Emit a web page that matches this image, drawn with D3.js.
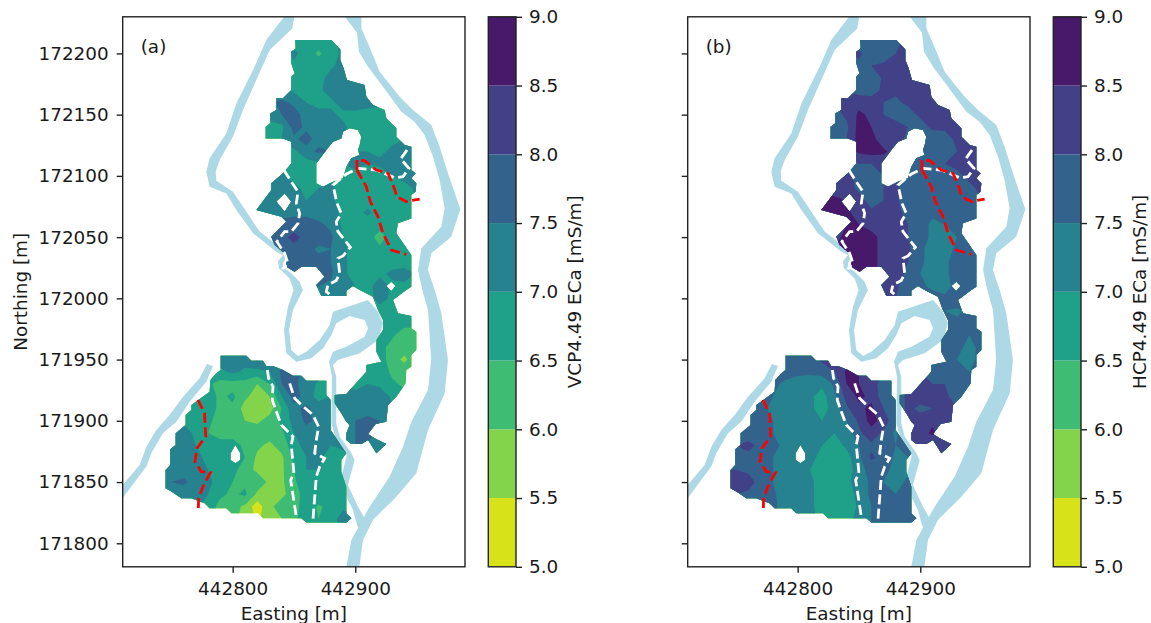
<!DOCTYPE html>
<html>
<head>
<meta charset="utf-8">
<script src="https://cdn.jsdelivr.net/npm/d3@7"></script>
<style>
    body { margin: 0; background: #fff; }
    text { font-family: "DejaVu Sans", sans-serif; fill: #1a1a1a; }
</style>
</head>
<body>
<div id="chart"></div>
<script>
const levels = [5, 5.5, 6, 6.5, 7, 7.5, 8, 8.5, 9];
const eastTicks = [442800, 442900];
const northTicks = [171800, 171850, 171900, 171950, 172000, 172050, 172100, 172150, 172200];
const gridStep = 10;
const gridWest = 442740, gridEast = 442950, gridNorth = 172210, gridSouth = 171810;

// measured ECa, one row per northing (172210 going south), first number = easting of first value minus 442000
// 0 means no measurement
const vcpRows = [
    [850, 6.8, 6.8, 6.8, 6.8, 7.2],
    [850, 7.1, 6.8, 6.4, 6.8, 7.1],
    [850, 6.9, 6.8, 6.8, 6.9, 7.2],
    [850, 6.8, 6.8, 6.8, 7.2, 7.3, 7.3],
    [850, 6.9, 6.8, 6.9, 7.2, 7.3, 7.3, 7.2],
    [840, 7.6, 7.4, 7.0, 6.8, 6.9, 7.2, 7.2, 7.2, 7.1],
    [830, 7.1, 7.5, 7.7, 7.3, 7.2, 7.1, 6.9, 6.9, 6.8, 6.8, 6.9],
    [830, 6.9, 6.9, 7.7, 7.4, 7.3, 7.4, 7.1, 6.8, 6.8, 6.8, 6.8],
    [830, 7.0, 7.0, 7.4, 7.7, 7.3, 7.2, 7.0, 6.9, 6.8, 6.8, 6.9, 7.0],
    [850, 6.9, 7.3, 7.6, 7.5, 7.0, 7.0, 7.0, 6.9, 7.1, 7.2],
    [840, 6.9, 6.8, 6.8, 6.9, 7.0, 7.0, 7.1, 7.0, 7.1, 7.2, 7.3, 7.3],
    [830, 7.2, 7.1, 6.8, 6.8, 6.9, 6.9, 6.9, 6.9, 6.7, 6.7, 7.0, 7.2, 7.2],
    [820, 7.3, 7.3, 7.2, 7.1, 6.9, 7.0, 7.1, 6.8, 6.6, 6.7, 6.7, 6.6, 6.8, 7.1],
    [820, 7.3, 7.3, 7.3, 7.2, 7.0, 7.1, 7.1, 6.8, 6.7, 6.8, 6.7, 6.8, 6.9, 7.0],
    [820, 7.3, 7.4, 7.4, 7.4, 7.4, 7.3, 7.2, 6.9, 6.8, 7.1, 6.8, 6.7, 6.8],
    [830, 7.5, 7.6, 7.7, 7.7, 7.6, 7.4, 6.9, 6.8, 6.7, 6.7, 6.7],
    [830, 7.8, 7.8, 8.2, 7.8, 7.7, 7.6, 7.0, 6.8, 6.7, 6.3, 6.7, 6.7],
    [830, 7.7, 7.8, 7.8, 7.7, 7.4, 7.5, 7.1, 6.8, 6.7, 6.6, 6.7, 6.7],
    [840, 7.7, 7.8, 7.8, 7.7, 7.5, 7.1, 6.8, 6.7, 6.7, 6.8, 6.8],
    [850, 7.7, 7.7, 7.7, 7.6, 7.1, 6.8, 6.7, 6.9, 7.1, 7.2],
    [870, 7.5, 7.4, 7.1, 7.0, 6.8, 7.3, 6.9, 6.9],
    [870, 7.4, 7.3, 7.1, 6.9, 6.8, 7.2, 6.9, 6.9],
    [910, 6.8, 6.8, 6.8, 6.8],
    [920, 6.7, 7.0, 6.7, 6.7],
    [920, 6.7, 6.6, 6.2, 6.2],
    [920, 6.7, 6.3, 6.2, 6.3],
    [790, 7.2, 7.2, 7.2, 7.6, 7.2, 0, 0, 0, 0, 0, 0, 0, 0, 6.8, 6.2, 5.9, 6.3],
    [780, 6.9, 6.9, 7.1, 6.9, 6.8, 7.0, 7.6, 7.7, 7.3, 7.3, 0, 0, 0, 6.9, 6.8, 6.4, 6.3, 6.5],
    [770, 6.8, 6.6, 6.3, 6.3, 6.3, 6.0, 6.5, 7.5, 7.6, 7.3, 6.9, 6.8, 0, 6.9, 7.0, 6.9, 6.6, 6.4],
    [770, 6.9, 6.7, 6.4, 6.6, 6.1, 5.8, 6.0, 7.0, 7.7, 7.3, 6.8, 7.0, 7.4, 7.1, 7.1, 7.3, 6.9, 6.7],
    [760, 6.9, 6.9, 6.7, 6.4, 6.4, 5.8, 5.7, 5.8, 6.5, 7.4, 7.6, 7.3, 7.2, 7.4, 7.2, 7.2, 7.2, 7.1],
    [760, 6.9, 6.8, 6.6, 6.3, 6.3, 6.0, 5.9, 6.2, 6.6, 7.2, 7.6, 7.4, 7.2, 7.2, 7.5, 7.7, 7.5, 7.3],
    [750, 7.2, 7.2, 6.9, 6.5, 6.3, 6.3, 6.5, 6.3, 6.2, 6.4, 7.0, 7.3, 7.3, 7.2, 7.2, 7.5, 7.8, 7.3],
    [750, 7.2, 7.1, 7.0, 6.8, 6.7, 6.7, 6.4, 6.1, 5.9, 6.2, 6.8, 7.2, 7.3, 7.0, 7.2, 7.5, 7.4, 7.3, 7.3],
    [750, 7.3, 7.2, 7.1, 6.9, 6.8, 6.7, 6.5, 5.9, 6.0, 5.9, 6.6, 7.0, 7.1, 6.8, 6.7, 0, 7.3, 7.3],
    [740, 7.4, 7.4, 7.3, 7.2, 7.0, 6.8, 6.7, 6.2, 5.9, 5.9, 5.9, 6.5, 7.0, 7.0, 6.8, 6.8],
    [740, 7.4, 7.5, 7.6, 7.3, 7.1, 6.8, 6.5, 6.4, 6.3, 5.9, 5.9, 6.4, 6.9, 6.9, 6.8, 6.8],
    [750, 7.3, 7.2, 7.1, 7.0, 6.6, 6.4, 6.6, 5.9, 5.8, 5.9, 6.2, 6.8, 7.0, 6.7, 6.7],
    [770, 7.1, 6.8, 6.3, 6.2, 5.9, 5.2, 5.9, 6.2, 6.2, 6.9, 6.4, 6.7, 6.9],
    [810, 5.9, 5.4, 5.8, 6.0, 6.3, 7.0, 6.5, 6.8, 7.2],
    [860, 7.0, 6.6, 6.8, 7.1, 7.1]
];
const hcpRows = [
    [850, 7.7, 7.8, 7.7, 7.9, 8.1],
    [850, 8.1, 7.7, 7.7, 8.0, 8.1],
    [850, 7.9, 8.0, 8.1, 8.2, 8.2],
    [850, 7.6, 7.6, 8.1, 8.2, 8.2, 8.2],
    [850, 7.8, 7.8, 8.1, 8.1, 8.1, 8.2, 8.2],
    [840, 8.2, 8.3, 8.2, 8.0, 7.9, 8.1, 8.1, 8.2, 8.2],
    [830, 7.8, 8.1, 8.6, 8.4, 8.0, 7.8, 7.8, 8.1, 8.2, 8.2, 8.1],
    [830, 7.8, 7.9, 8.7, 8.5, 8.1, 8.2, 8.0, 7.8, 8.1, 8.1, 8.2],
    [830, 7.8, 8.0, 8.7, 8.7, 8.2, 8.2, 7.9, 7.7, 7.7, 7.8, 8.1, 8.1],
    [850, 8.6, 8.7, 8.6, 8.3, 8.0, 7.8, 7.8, 7.8, 8.0, 8.3],
    [840, 7.9, 8.0, 8.0, 8.2, 8.1, 8.0, 7.8, 7.9, 8.0, 8.1, 8.2, 8.3],
    [830, 8.2, 8.1, 7.9, 7.9, 8.0, 8.0, 7.8, 7.7, 7.7, 7.8, 7.9, 8.1, 8.2],
    [820, 8.4, 8.3, 8.2, 7.9, 7.7, 8.0, 8.1, 7.7, 7.5, 7.6, 7.6, 7.7, 7.9, 8.1],
    [820, 8.6, 8.6, 8.5, 8.2, 7.8, 8.0, 8.1, 7.7, 7.6, 7.7, 7.7, 7.7, 7.9, 8.0],
    [820, 8.6, 8.7, 8.6, 8.3, 8.1, 8.0, 8.1, 7.9, 7.6, 7.6, 7.6, 7.7, 7.8],
    [830, 8.3, 8.5, 8.5, 8.4, 8.3, 8.2, 8.0, 7.7, 7.4, 7.5, 7.7],
    [830, 8.4, 8.6, 8.8, 8.6, 8.4, 8.3, 8.0, 7.7, 7.4, 7.3, 7.5, 7.7],
    [830, 8.5, 8.7, 8.8, 8.6, 8.4, 8.2, 8.1, 7.6, 7.3, 7.3, 7.6, 7.7],
    [840, 8.7, 8.8, 8.7, 8.3, 8.3, 8.0, 7.6, 7.3, 7.4, 7.7, 7.9],
    [850, 8.7, 8.6, 8.4, 8.2, 7.9, 7.5, 7.3, 7.4, 7.7, 7.9],
    [870, 8.3, 8.1, 7.7, 7.6, 7.4, 7.3, 7.7, 7.9],
    [870, 8.3, 8.0, 7.7, 7.6, 7.7, 7.6, 7.9, 8.1],
    [910, 7.7, 7.5, 7.4, 7.6],
    [920, 7.7, 7.6, 7.7, 7.9],
    [920, 8.0, 7.7, 7.5, 7.7],
    [920, 8.0, 7.6, 7.4, 7.6],
    [790, 7.8, 7.8, 7.8, 8.1, 8.1, 0, 0, 0, 0, 0, 0, 0, 0, 7.8, 7.5, 7.3, 7.7],
    [780, 7.7, 7.7, 7.6, 7.6, 7.7, 8.0, 8.6, 8.5, 8.3, 8.0, 0, 0, 0, 7.9, 7.7, 7.5, 7.5, 7.8],
    [770, 7.6, 7.6, 7.4, 7.3, 7.2, 7.1, 7.6, 8.5, 8.5, 8.3, 7.7, 7.6, 0, 8.1, 8.0, 8.0, 7.8, 7.8],
    [770, 7.6, 7.5, 7.3, 7.2, 7.1, 6.8, 7.4, 8.2, 8.6, 8.4, 7.7, 7.5, 8.2, 8.2, 8.1, 8.2, 7.6, 7.9],
    [760, 7.8, 7.6, 7.4, 7.2, 7.1, 7.1, 6.8, 7.2, 7.9, 8.4, 8.6, 8.0, 7.7, 8.1, 7.9, 8.0, 8.0, 8.0],
    [760, 7.7, 7.7, 7.5, 7.2, 7.2, 7.1, 7.0, 7.2, 7.5, 8.1, 8.7, 8.3, 7.6, 8.2, 8.2, 8.4, 8.1, 8.1],
    [750, 7.8, 7.8, 7.8, 7.5, 7.3, 7.3, 7.1, 7.2, 7.0, 7.2, 7.9, 8.3, 7.9, 7.4, 8.1, 8.3, 8.6, 8.2],
    [750, 8.0, 8.1, 7.9, 7.6, 7.4, 7.3, 7.2, 7.0, 6.8, 7.1, 7.5, 7.9, 7.8, 7.5, 7.8, 8.2, 8.1, 8.1, 8.1],
    [750, 7.9, 7.9, 7.7, 7.5, 7.4, 7.3, 7.2, 6.8, 6.7, 6.8, 7.4, 8.1, 7.8, 7.4, 7.5, 0, 8.1, 8.1],
    [740, 8.0, 8.0, 7.9, 7.8, 7.5, 7.4, 7.1, 7.0, 6.8, 6.6, 6.7, 7.3, 7.7, 7.6, 7.4, 7.4],
    [740, 8.1, 8.1, 8.2, 7.8, 7.5, 7.3, 7.1, 7.1, 6.8, 6.6, 6.9, 7.2, 7.6, 7.5, 7.3, 7.6],
    [750, 8.0, 7.9, 7.7, 7.6, 7.2, 7.1, 7.1, 6.8, 6.6, 6.7, 7.2, 7.6, 7.7, 7.5, 7.6],
    [770, 7.7, 7.6, 7.3, 7.1, 7.1, 6.8, 6.6, 6.6, 7.1, 7.5, 7.5, 7.6, 7.7],
    [810, 7.1, 6.9, 6.7, 6.8, 7.2, 7.5, 7.5, 7.6, 7.8],
    [860, 7.5, 7.5, 7.6, 7.8, 7.8]
];

// surveyed field boundaries [easting, northing]
const upperField = [[442851,172211],[442880.5,172211],[442887.8,172203.3],[442887.8,172194.6],[442890.5,172187.8],[442893.2,172178.3],[442907.6,172174.2],[442909,172164.7],[442914.4,172157.9],[442924,172153.8],[442925.3,172147],[442933.5,172138.8],[442933.5,172132],[442940.3,172125.2],[442945.7,172123.8],[442945.7,172104.8],[442949.2,172102.1],[442945.7,172098],[442949.8,172093.9],[442949.2,172087.1],[442945.7,172084.4],[442945.7,172065.3],[442934.8,172061.3],[442933.5,172053.1],[442945.7,172035.4],[442945.7,172009.5],[442941.6,172006.8],[442930.8,171998.6],[442934.8,171987.8],[442945.7,171985.6],[442945.7,171975.5],[442949.8,171972.8],[442949.8,171957.8],[442945.7,171953.7],[442945.7,171944.2],[442941.6,171941.5],[442941.1,171930.6],[442933.5,171919.7],[442926.7,171912.9],[442925.3,171899.3],[442916.6,171897.4],[442910.4,171889.2],[442915.8,171885.7],[442925.3,171881.1],[442917.2,171873.5],[442910.4,171884.4],[442904.9,171881.1],[442896.8,171881.1],[442892.7,171884.4],[442892.7,171889.8],[442895.4,171896.6],[442892.7,171899.3],[442888.6,171906.1],[442883.2,171914.3],[442883.2,171921.1],[442892.7,171921.9],[442909,171940.1],[442909,171945.6],[442921.3,171948.3],[442917.2,171956.5],[442917.2,171966],[442922.6,171974.1],[442922.6,171982.3],[442918.5,171990.5],[442914.4,172001.4],[442903.6,172006.8],[442898.1,172010.1],[442892.7,172006.3],[442892.7,172002],[442872.3,172002],[442868.2,172011],[442872.3,172015],[442875,172017.7],[442868.2,172025.9],[442856,172025.9],[442850.5,172021.8],[442843.8,172025.9],[442843.8,172035.4],[442834.2,172043.6],[442831.5,172050.4],[442841,172059.9],[442843.8,172062.6],[442839.7,172066.7],[442819.3,172072.2],[442831.5,172088.5],[442831.5,172093.9],[442841,172102.1],[442847.8,172110.2],[442847.8,172127.9],[442841,172130.6],[442826.9,172130.6],[442826.9,172140.2],[442830.7,172142.9],[442830.7,172151],[442835.6,172153.8],[442835.6,172163.3],[442841,172163.3],[442847.8,172170.1],[442847.8,172181],[442850.5,172183.7],[442847.8,172191.9],[442847.8,172201.4],[442851.4,172204.1]];
const lowerField = [[442790.2,171953.2],[442811.1,171953.2],[442815.2,171949.1],[442824.7,171949.1],[442827.4,171944.8],[442832.9,171944.8],[442841,171941.5],[442849.2,171936.9],[442856,171936.9],[442860.1,171932.8],[442876.4,171932.8],[442876.4,171921.1],[442879.9,171917],[442879.9,171892.5],[442892.7,171873.5],[442888.6,171868],[442888.6,171858.5],[442892.7,171846.3],[442892.7,171824.5],[442896.8,171820.4],[442892.7,171816.9],[442860.1,171816.9],[442856,171820.4],[442824.7,171820.4],[442820.6,171824.5],[442798.9,171824.5],[442794.8,171828.6],[442781.2,171828.6],[442777.1,171832.7],[442766.3,171836.7],[442758.1,171836.7],[442750,171842.2],[442745.3,171844.9],[442745.3,171859.9],[442749.1,171864],[442749.1,171876.7],[442753.5,171880.3],[442753.5,171889.8],[442761.6,171896.6],[442761.6,171904.8],[442766.3,171908.8],[442766.3,171912.9],[442781.2,171923.8],[442781.8,171933.3],[442786.7,171938.8],[442790.2,171941.5]];
const fieldHoles = [
    [[442888.6,172130.6],[442890,172136.1],[442895.4,172138.8],[442902.2,172137.4],[442904.9,172132],[442903.6,172125.2],[442902.2,172121.1],[442903.6,172117],[442896.8,172114.3],[442892.7,172107.5],[442890,172098],[442881.8,172095.3],[442873.7,172091.2],[442868.2,172093.9],[442868.2,172110.2],[442876.4,172121.1],[442881.8,172127.9]],
    [[442835.6,172079],[442842.4,172085.7],[442847.8,172079],[442842.4,172070.8]],
    [[442925.3,172010.1],[442929.4,172013.6],[442932.9,172010.1],[442929.4,172006]],
    [[442798.3,171873.5],[442802.2,171880.3],[442806.2,171873.5],[442806.2,171868],[442802.2,171865.3],[442798.3,171868]]
];

// river banks
const mainRiver = [[442890.5,172231.3],[442901.4,172216.9],[442903,172201.4],[442910.4,172189.1],[442922.6,172172.8],[442937.6,172152.4],[442948.4,172144.2],[442956.6,172133.4],[442963.4,172115.7],[442968.8,172096.6],[442972.9,172073.5],[442970.2,172058.5],[442953.9,172040.9],[442951.2,172023.2],[442954.7,172006.8],[442959.3,171990.5],[442961.9,171949.7],[442959.3,171925.2],[442945.7,171899.3],[442938.9,171878.9],[442928,171854.4],[442911.7,171829.9],[442896.8,171802.7],[442892.2,171778.2],[442903,171778.2],[442906.3,171802.7],[442914.4,171819],[442933.5,171838.1],[442949.8,171857.1],[442959.3,171892.5],[442972.9,171922.4],[442975.6,171949.7],[442970.2,171987.8],[442964.8,172006.8],[442959.3,172023.2],[442962,172036.8],[442978.3,172050.4],[442985.7,172072.7],[442975.6,172102.1],[442968.8,172123.8],[442962,172141.5],[442947.1,172153.8],[442936.2,172164.7],[442919.9,172185],[442910.4,172208.2],[442905,172220.4],[442905,172231.3]];
const innerRiver = [[442843,172231.3],[442827.4,172210.9],[442817.9,172189.1],[442803,172159.2],[442794.8,172134.7],[442781.2,172114.3],[442778.5,172103.4],[442781.2,172091.2],[442794.8,172085.7],[442803,172072.2],[442816.6,172053.1],[442835.6,172038.1],[442841,172035.4],[442836.9,172030],[442837.8,172024.5],[442846.5,172016.3],[442849.7,172006.8],[442845.1,171993.2],[442841.8,171974.1],[442843.8,171955.1],[442851.9,171948.3],[442864.1,171951],[442873.7,171959.2],[442880.5,171970.1],[442884.5,171979.6],[442895.4,171985.6],[442907.6,171982.3],[442910.4,171975.5],[442907.6,171968.7],[442892.7,171960.5],[442881.8,171956.5],[442878.6,171948.3],[442881,171936],[442880.5,171897.9],[442884.5,171884.4],[442893.2,171872.1],[442888.6,171854.4],[442888.6,171846.3],[442898.1,171827.2],[442901.4,171815],[442903.6,171810.9],[442907.6,171820.4],[442902.2,171829.9],[442894,171847.6],[442899.5,171868],[442896.8,171873.5],[442887.3,171887.1],[442884.5,171897.9],[442884.5,171936],[442881.8,171945.6],[442885.9,171949.7],[442903.6,171955.1],[442918.5,171966],[442922.6,171979.6],[442918.5,171989.1],[442910.4,171998.6],[442881.8,171989.1],[442879.1,171978.2],[442870.9,171966],[442860.1,171956.5],[442853.3,171952.9],[442847.8,171957.8],[442846,171974.1],[442849.2,171990.5],[442857.3,172006.8],[442854.6,172013.6],[442846.5,172021.8],[442841.6,172024.5],[442841,172028.6],[442845.1,172035.4],[442838.3,172041.7],[442822,172054.5],[442808.4,172074.9],[442800.2,172087.1],[442786.7,172096.1],[442786.1,172103.4],[442789.4,172113],[442800.2,172132],[442808.4,172153.8],[442819.3,172178.3],[442830.2,172202.7],[442848.6,172220.4],[442850.5,172231.3]];
const westRiver = [[442779,171946.4],[442773,171934.7],[442759.5,171919.7],[442748.6,171904.8],[442737.7,171892.5],[442729.6,171878.9],[442724.1,171864],[442709.2,171846.3],[442703.7,171836.7],[442709.2,171835.4],[442729.6,171862.6],[442733.6,171873.5],[442743.1,171889.8],[442754,171899.3],[442764.9,171915.6],[442778.5,171932],[442783.9,171944.8]];

// profile lines
const whiteLines = [
    [[442841.8,172104.8],[442847.8,172095.3],[442853.3,172087.1],[442851.9,172077.6],[442854.6,172069.4],[442853.3,172061.2],[442847.8,172054.5],[442842.4,172054.5],[442836.1,172046.3],[442842.4,172036.8],[442845.1,172028.6],[442840.5,172023.7]],
    [[442942.2,172121.1],[442937,172113.8],[442943.8,172106.1],[442938.9,172099.3],[442932.1,172098.5],[442917.2,172104.8],[442902.2,172106.1],[442892.7,172101.5],[442881.8,172092.5],[442885.1,172077.6],[442888.6,172069.4],[442884.5,172062.6],[442885.9,172054.5],[442896,172041.7],[442890,172034.6],[442885.9,172032.7],[442887.3,172020.4],[442884.5,172014.5],[442877.7,172011],[442876.4,172005.5],[442880.5,172002]],
    [[442828.3,171941.5],[442829.3,171934.7],[442832.9,171927.9],[442832.3,171917],[442836.1,171906.1],[442839.7,171896.6],[442849.2,171887.1],[442847.8,171880.3],[442850,171857.1],[442847.3,171851.7],[442851.9,171821.8]],
    [[442846.5,171930.6],[442850.5,171918.4],[442856,171913],[442865.5,171904.8],[442870.1,171895.2],[442868.2,171884.4],[442866.9,171873.5],[442875,171869.4],[442871,171862.6],[442868.2,171854.4],[442865.5,171819]]
];
const redLines = [
    [[442901.4,172104.8],[442901.4,172113],[442907.6,172112.4],[442917.2,172104.8],[442926.7,172102.1],[442931.3,172091.2],[442934,172083],[442941.6,172079],[442952.5,172081.1]],
    [[442901.4,172104.8],[442909,172091.2],[442912.3,172079],[442918.5,172066.7],[442922.6,172053.1],[442929.4,172039.5],[442941.6,172035.9]],
    [[442771.7,171917],[442777.1,171906.1],[442778,171887.1],[442770.9,171877.6],[442769.2,171866.7],[442774.4,171858.5],[442781.8,171857.7],[442775.8,171846.3],[442772.2,171836.7],[442772,171827.8]]
];

const bandColors = d3.range(8).map(i => d3.interpolateViridis(1 - (i + 0.5) / 8));
const fontSize = 18.4;
const width = 1151, height = 623;
const axTop = 16.8, axBottom = 566.8;

var svg = d3.select("#chart").append("svg")
    .attr("width", width)
    .attr("height", height)
    .style("display", "block");

// turn sparse rows into a full grid, empty nodes take the mean of their filled neighbours
function buildGrid(rows) {
    var nx = (gridEast - gridWest) / gridStep + 1;
    var ny = rows.length;
    var grid = new Array(nx * ny).fill(0);
    rows.forEach(function (row, j) {
        var first = (row[0] + 442000 - gridWest) / gridStep;
        row.slice(1).forEach(function (v, k) {
            grid[j * nx + first + k] = v;
        });
    });
    var empty = true;
    while (empty) {
        empty = false;
        var next = grid.slice();
        for (var j = 0; j < ny; j++) {
            for (var i = 0; i < nx; i++) {
                if (grid[j * nx + i] != 0) continue;
                var sum = 0, count = 0;
                for (var dj = -1; dj <= 1; dj++) {
                    for (var di = -1; di <= 1; di++) {
                        var a = i + di, b = j + dj;
                        if (a < 0 || b < 0 || a >= nx || b >= ny) continue;
                        if (grid[b * nx + a] != 0) { sum += grid[b * nx + a]; count++; }
                    }
                }
                if (count > 0) next[j * nx + i] = sum / count;
                else empty = true;
            }
        }
        grid = next;
    }
    return { values: grid, nx: nx, ny: ny };
}

function drawPanel(offset, rows, letter, barLabel, showNorthing, id) {
    var x = d3.scaleLinear().domain([442710.3, 442989.5]).range([122.7 + offset, 465 + offset]);
    var y = d3.scaleLinear().domain([171780.8, 172229.9]).range([axBottom, axTop]);
    var line = d3.line().x(d => x(d[0])).y(d => y(d[1]));
    var closed = pts => line(pts) + "Z";

    var defs = svg.append("defs");
    defs.append("clipPath").attr("id", "ax" + id)
        .append("rect")
        .attr("x", x.range()[0]).attr("y", axTop)
        .attr("width", x.range()[1] - x.range()[0]).attr("height", axBottom - axTop);
    defs.append("clipPath").attr("id", "field" + id)
        .append("path")
        .attr("clip-rule", "evenodd")
        .attr("d", [upperField, lowerField].concat(fieldHoles).map(closed).join(""));

    var g = svg.append("g").attr("clip-path", "url(#ax" + id + ")");
    g.selectAll(".river").data([mainRiver, innerRiver, westRiver]).join("path")
        .attr("class", "river")
        .attr("d", closed)
        .attr("fill", "lightblue");

    // contours of the grid, stacked from the lowest level up
    var grid = buildGrid(rows);
    var contours = d3.contours().size([grid.nx, grid.ny]).thresholds(levels.slice(0, -1))(grid.values);
    var toMap = d3.geoTransform({
        point: function (gx, gy) {
            this.stream.point(
                x(gridWest + (gx - 0.5) * gridStep),
                y(gridNorth - (gy - 0.5) * gridStep));
        }
    });
    g.append("g").attr("clip-path", "url(#field" + id + ")")
        .selectAll("path").data(contours).join("path")
        .attr("d", d3.geoPath(toMap))
        .attr("fill", (d, i) => bandColors[i]);

    g.selectAll(".white").data(whiteLines).join("path")
        .attr("class", "white")
        .attr("d", line).attr("fill", "none")
        .attr("stroke", "white").attr("stroke-width", 2.8).attr("stroke-dasharray", "10,4.4");
    g.selectAll(".red").data(redLines).join("path")
        .attr("class", "red")
        .attr("d", line).attr("fill", "none")
        .attr("stroke", "red").attr("stroke-width", 2.8).attr("stroke-dasharray", "10,4.4");

    // frame and axes
    svg.append("rect")
        .attr("x", x.range()[0]).attr("y", axTop)
        .attr("width", x.range()[1] - x.range()[0]).attr("height", axBottom - axTop)
        .attr("fill", "none").attr("stroke", "#222").attr("stroke-width", 1.4);

    var xAxis = svg.append("g")
        .attr("transform", "translate(0," + axBottom + ")")
        .call(d3.axisBottom(x).tickValues(eastTicks).tickFormat(d3.format("d")).tickSizeOuter(0).tickPadding(9));
    var yAxis = svg.append("g")
        .attr("transform", "translate(" + x.range()[0] + ",0)")
        .call(d3.axisLeft(y).tickValues(northTicks).tickFormat(showNorthing ? d3.format("d") : "").tickSizeOuter(0).tickPadding(8));
    [xAxis, yAxis].forEach(function (a) {
        a.select(".domain").remove();
        a.selectAll("line").attr("stroke", "#222").attr("stroke-width", 1.4);
        a.selectAll("text").style("font-size", fontSize + "px").attr("font-family", null);
    });

    svg.append("text")
        .attr("x", x.range()[0] + 18).attr("y", 53)
        .style("font-size", fontSize + "px")
        .text(letter);
    svg.append("text")
        .attr("x", (x.range()[0] + x.range()[1]) / 2).attr("y", 619.5)
        .attr("text-anchor", "middle")
        .style("font-size", fontSize + "px")
        .text("Easting [m]");
    if (showNorthing) {
        svg.append("text")
            .attr("transform", "translate(27," + (axTop + axBottom) / 2 + ") rotate(-90)")
            .attr("text-anchor", "middle")
            .style("font-size", fontSize + "px")
            .text("Northing [m]");
    }

    // colour bar
    var barX = 488.3 + offset, barW = 27.7;
    var c = d3.scaleLinear().domain([5, 9]).range([axBottom, axTop]);
    svg.append("g").selectAll("rect").data(bandColors).join("rect")
        .attr("x", barX)
        .attr("y", (d, i) => c(levels[i + 1]))
        .attr("width", barW)
        .attr("height", (d, i) => c(levels[i]) - c(levels[i + 1]))
        .attr("fill", d => d);
    svg.append("rect")
        .attr("x", barX).attr("y", axTop).attr("width", barW).attr("height", axBottom - axTop)
        .attr("fill", "none").attr("stroke", "#222").attr("stroke-width", 1.4);
    var barAxis = svg.append("g")
        .attr("transform", "translate(" + (barX + barW) + ",0)")
        .call(d3.axisRight(c).tickValues(levels).tickFormat(d3.format(".1f")).tickSizeOuter(0).tickPadding(7));
    barAxis.select(".domain").remove();
    barAxis.selectAll("line").attr("stroke", "#222").attr("stroke-width", 1.4);
    barAxis.selectAll("text").style("font-size", fontSize + "px").attr("font-family", null);
    svg.append("text")
        .attr("transform", "translate(" + (581 + offset) + "," + (axTop + axBottom) / 2 + ") rotate(-90)")
        .attr("text-anchor", "middle")
        .style("font-size", fontSize + "px")
        .text(barLabel);
}

drawPanel(0, vcpRows, "(a)", "VCP4.49 ECa [mS/m]", true, "A");
drawPanel(565, hcpRows, "(b)", "HCP4.49 ECa [mS/m]", false, "B");
</script>
</body>
</html>
